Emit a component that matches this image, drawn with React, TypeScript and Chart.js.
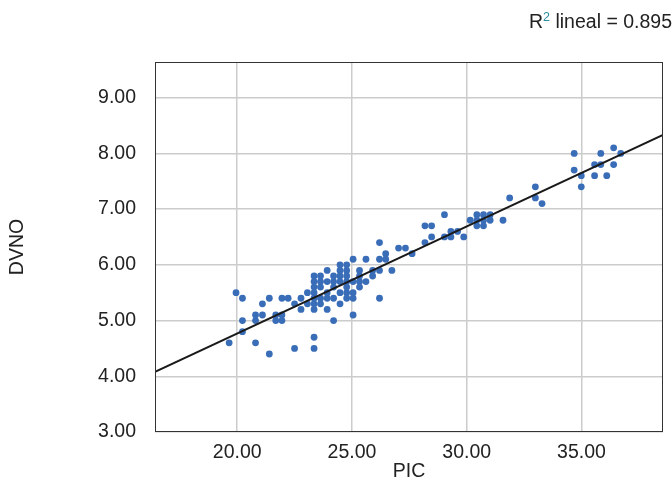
import { useEffect, useRef } from 'react';
import { Chart, registerables } from 'chart.js';

Chart.register(...registerables);

// PIC (x) values of the observations
const picValues = [
  19.65, 19.95, 20.23, 20.23, 20.23, 20.8, 20.8, 20.8, 21.1, 21.1,
  21.4, 21.4, 21.68, 21.68, 21.95, 21.95, 21.95, 22.22, 22.5, 22.5,
  22.78, 22.78, 23.06, 23.06,
  23.35, 23.35, 23.35, 23.35, 23.35, 23.35, 23.35, 23.35, 23.35,
  23.63, 23.63, 23.63, 23.63, 23.63,
  23.92, 23.92, 23.92, 23.92, 23.92,
  24.2, 24.2, 24.2, 24.2, 24.2,
  24.48, 24.48, 24.48, 24.48, 24.48, 24.48,
  24.77, 24.77, 24.77, 24.77, 24.77, 24.77, 24.77,
  25.05, 25.05, 25.05, 25.05, 25.05,
  25.33, 25.33, 25.33, 25.33,
  25.61, 25.61,
  25.9, 25.9,
  26.2, 26.2, 26.2, 26.2,
  26.47, 26.47,
  26.74, 27.03, 27.33, 27.62,
  28.18, 28.18, 28.47, 28.47, 29.03, 29.03, 29.31, 29.31, 29.6, 29.87,
  30.15, 30.44, 30.44, 30.44, 30.73, 30.73, 30.73, 31.02, 31.02, 31.58,
  31.87, 32.99, 32.99, 33.28,
  34.68, 34.68, 34.99, 34.99, 35.57, 35.57, 35.84, 35.84, 36.1, 36.4, 36.4, 36.71,
];

// DVNO (y) values of the observations
const dvnoValues = [
  4.6, 5.5, 5.4, 5.0, 4.8, 5.1, 5.0, 4.6, 5.3, 5.1,
  5.4, 4.4, 5.1, 5.0, 5.4, 5.1, 5.0, 5.4, 5.3, 4.5,
  5.4, 5.2, 5.5, 5.3,
  5.8, 5.7, 5.6, 5.5, 5.4, 5.3, 5.2, 4.7, 4.5,
  5.8, 5.7, 5.6, 5.4, 5.3,
  5.9, 5.7, 5.5, 5.4, 5.2,
  5.8, 5.7, 5.6, 5.4, 5.0,
  6.0, 5.9, 5.8, 5.7, 5.5, 5.3,
  6.0, 5.9, 5.8, 5.7, 5.6, 5.5, 5.4,
  6.1, 5.7, 5.5, 5.4, 5.1,
  5.9, 5.8, 5.7, 5.6,
  6.1, 5.7,
  5.9, 5.8,
  6.4, 6.1, 5.9, 5.4,
  6.2, 6.1,
  5.9, 6.3, 6.3, 6.2,
  6.7, 6.4, 6.7, 6.5, 6.9, 6.5, 6.6, 6.5, 6.6, 6.5,
  6.8, 6.9, 6.8, 6.7, 6.9, 6.8, 6.7, 6.9, 6.8, 6.8,
  7.2, 7.4, 7.2, 7.1,
  8.0, 7.7, 7.6, 7.4, 7.8, 7.6, 8.0, 7.8, 7.6, 8.1, 7.8, 8.0,
];

// Linear fit line end points
const fitPic = [16.42, 38.55];
const fitDvno = [4.08, 8.33];

const xTicks = [20, 25, 30, 35];
const yTicks = [3, 4, 5, 6, 7, 8, 9];
const xRange = [16.42, 38.55];
const yRange = [3, 9.64];
const rSquaredLabel = '0.895';

const FONT = "'Liberation Sans', Arial, Helvetica, sans-serif";
const TEXT = '#222222';

export default function App() {
  const ref = useRef<HTMLCanvasElement>(null);

  useEffect(() => {
    if (!ref.current) return;

    const decor = {
      id: 'decor',
      afterDraw(chart: any) {
        const { ctx, chartArea: a } = chart;
        ctx.save();
        ctx.strokeStyle = '#333333';
        ctx.lineWidth = 1;
        ctx.strokeRect(Math.round(a.left) + 0.5, Math.round(a.top) + 0.5, Math.round(a.right - a.left) - 1, Math.round(a.bottom - a.top) - 1);

        // R² label
        const big = `19.5px ${FONT}`;
        const small = `12.5px ${FONT}`;
        const rest = ' lineal = ' + rSquaredLabel;
        ctx.font = big;
        const wR = ctx.measureText('R').width;
        const wRest = ctx.measureText(rest).width;
        ctx.font = small;
        const w2 = ctx.measureText('2').width;
        const total = wR + w2 + wRest;
        let x = 672 - total;
        ctx.textBaseline = 'alphabetic';
        ctx.textAlign = 'left';
        ctx.font = big;
        ctx.fillStyle = TEXT;
        ctx.fillText('R', x, 28);
        x += wR;
        ctx.font = small;
        ctx.fillStyle = '#2a8c9c';
        ctx.fillText('2', x, 21);
        x += w2;
        ctx.font = big;
        ctx.fillStyle = TEXT;
        ctx.fillText(rest, x, 28);
        ctx.restore();
      },
    };

    const points = picValues.map((v, i) => ({ x: v, y: dvnoValues[i] }));
    const fit = fitPic.map((v, i) => ({ x: v, y: fitDvno[i] }));

    const chart = new Chart(ref.current, {
      type: 'scatter',
      data: {
        datasets: [
          {
            type: 'line',
            data: fit,
            borderColor: '#1a1a1a',
            borderWidth: 2,
            pointRadius: 0,
            fill: false,
          } as any,
          {
            data: points,
            backgroundColor: '#3a6db8',
            borderColor: '#3a6db8',
            borderWidth: 0,
            pointRadius: 3.4,
          },
        ],
      },
      options: {
        responsive: false,
        animation: false,
        layout: { padding: { top: 62, right: 9, bottom: 0, left: 0 } },
        plugins: { legend: { display: false }, tooltip: { enabled: false } },
        scales: {
          x: {
            type: 'linear',
            min: xRange[0],
            max: xRange[1],
            afterBuildTicks: (s: any) => {
              s.ticks = xTicks.map((v) => ({ value: v }));
            },
            afterFit: (s: any) => {
              s.height = 57;
            },
            ticks: {
              callback: (v: any) => Number(v).toFixed(2),
              font: { family: FONT, size: 19.5 },
              color: TEXT,
              padding: 9,
              maxRotation: 0,
              autoSkip: false,
            },
            grid: { color: '#cccccc', lineWidth: 1.5, drawTicks: false },
            border: { display: false },
            title: {
              display: true,
              text: 'PIC',
              font: { family: FONT, size: 19.5 },
              color: TEXT,
              padding: { top: 0, bottom: 6 },
            },
          },
          y: {
            type: 'linear',
            min: yRange[0],
            max: yRange[1],
            afterBuildTicks: (s: any) => {
              s.ticks = yTicks.map((v) => ({ value: v }));
            },
            afterFit: (s: any) => {
              s.width = 155;
            },
            ticks: {
              callback: (v: any) => Number(v).toFixed(2),
              font: { family: FONT, size: 19.5 },
              color: TEXT,
              padding: 19,
              autoSkip: false,
            },
            grid: { color: '#cccccc', lineWidth: 1.5, drawTicks: false },
            border: { display: false },
            title: {
              display: true,
              text: 'DVNO',
              font: { family: FONT, size: 19.5 },
              color: TEXT,
              padding: { top: 6, bottom: 0 },
            },
          },
        },
      },
      plugins: [decor],
    });

    return () => chart.destroy();
  }, []);

  return (
    <canvas
      ref={ref}
      width={672}
      height={489}
      style={{ position: 'absolute', left: 0, top: 0 }}
    />
  );
}
